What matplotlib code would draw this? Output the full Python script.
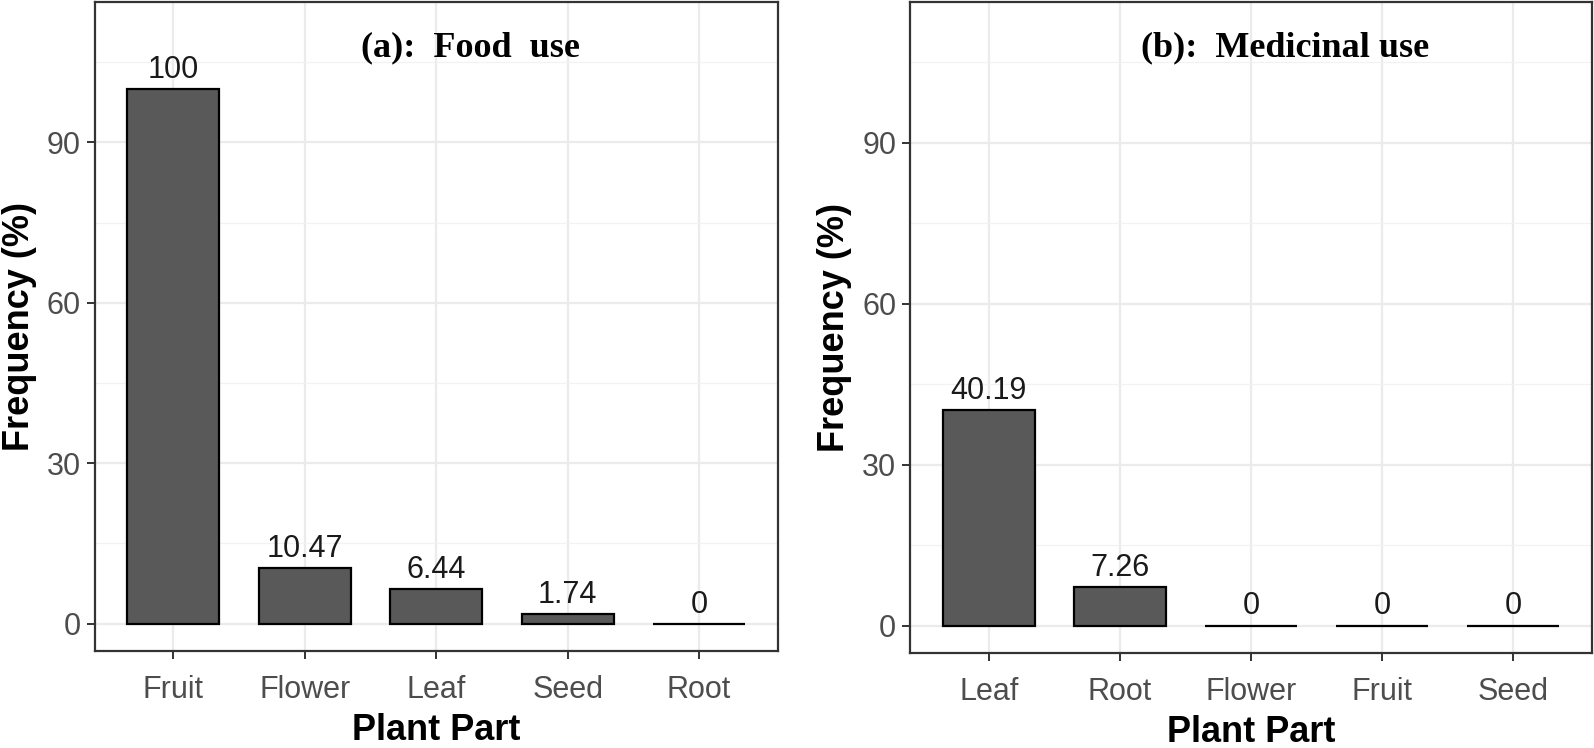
import matplotlib.pyplot as plt
from matplotlib.ticker import MultipleLocator

# data
food_parts = ['Fruit', 'Flower', 'Leaf', 'Seed', 'Root']
food_freq = [100, 10.47, 6.44, 1.74, 0]
med_parts = ['Leaf', 'Root', 'Flower', 'Fruit', 'Seed']
med_freq = [40.19, 7.26, 0, 0, 0]
titles = ['(a):  Food  use', '(b):  Medicinal use']
yticks = [0, 30, 60, 90]

plt.rcParams['font.family'] = ['Liberation Sans', 'DejaVu Sans']

fig = plt.figure(figsize=(15.94, 7.48), dpi=100)
ax1 = fig.add_axes([0.0593, 0.1297, 0.4287, 0.8673])
ax2 = fig.add_axes([0.571, 0.127, 0.4277, 0.870])


def fmt(v):
    return f'{v:g}'


def draw_panel(ax, parts, freq, title):
    x = list(range(len(parts)))
    ax.set_axisbelow(True)
    ax.bar(x, freq, width=0.7, color='#595959', edgecolor='black', linewidth=1.6, zorder=3)
    for xi, v in zip(x, freq):
        ax.annotate(fmt(v), (xi, v), xytext=(0, 3), textcoords='offset points',
                    ha='center', va='bottom', fontsize=22, color='#1a1a1a', zorder=4)
    ax.set_xlim(-0.6, len(parts) - 0.4)
    ax.set_ylim(-5.1, 116.2)
    ax.set_xticks(x)
    ax.set_xticklabels(parts)
    ax.set_yticks(yticks)
    ax.yaxis.set_minor_locator(MultipleLocator(15))
    ax.grid(True, which='major', color='#EBEBEB', linewidth=1.6)
    ax.grid(True, which='minor', axis='y', color='#F2F2F2', linewidth=0.9)
    ax.tick_params(axis='both', which='major', labelsize=22, labelcolor='#4D4D4D',
                   color='#333333', length=6, width=1.4, pad=4)
    ax.tick_params(axis='x', which='major', pad=11)
    ax.tick_params(axis='y', which='minor', length=0)
    for s in ax.spines.values():
        s.set_color('#333333')
        s.set_linewidth(1.6)
    ax.set_xlabel('Plant Part', fontsize=26, fontweight='bold', labelpad=6)
    ax.set_ylabel('Frequency (%)', fontsize=26, fontweight='bold', labelpad=7)
    ax.text(0.55, 0.93, title, transform=ax.transAxes, ha='center', va='center',
            fontsize=26, fontweight='bold', family=['Liberation Serif', 'DejaVu Serif'])


draw_panel(ax1, food_parts, food_freq, titles[0])
draw_panel(ax2, med_parts, med_freq, titles[1])

fig.savefig('out.png', dpi=100)
